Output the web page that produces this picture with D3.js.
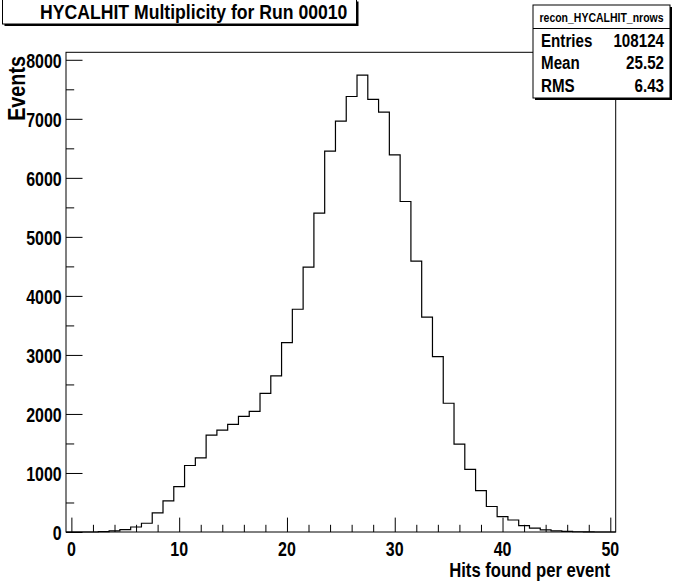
<!DOCTYPE html>
<html>
<head>
<meta charset="utf-8">
<script src="https://cdn.jsdelivr.net/npm/d3@7"></script>
<style>
  html, body { margin: 0; padding: 0; background: #fff; }
  svg text { font-family: "Liberation Sans", Arial, Helvetica, sans-serif; font-weight: bold; fill: #000; }
</style>
</head>
<body>
<svg id="chart" width="683" height="584"></svg>
<script>
// ---- data ----
const binCenters = d3.range(0, 51);   // bins centred on integers 0..50
const binCounts = [
  0, 0, 0, 5, 18, 40, 85, 148, 325, 528,
  770, 1127, 1256, 1640, 1726, 1825, 1960, 2042, 2350, 2644,
  3209, 3774, 4486, 5402, 6452, 6960, 7378, 7740, 7328, 7113,
  6390, 5599, 4588, 3639, 2972, 2181, 1488, 1062, 700, 432,
  260, 203, 107, 65, 37, 18, 9, 4, 2, 0,
  0
];
const xTickLabels = [0, 10, 20, 30, 40, 50];
const yTickLabels = [0, 1000, 2000, 3000, 4000, 5000, 6000, 7000, 8000];
const titleText = "HYCALHIT Multiplicity for Run 00010";
const statsName = "recon_HYCALHIT_nrows";
const statsLabels = ["Entries", "Mean", "RMS"];
const statsValues = ["108124", "25.52", "6.43"];
const xTitle = "Hits found per event";
const yTitle = "Events";

// ---- layout ----
const svg = d3.select("#chart");
const frame = { left: 66, right: 615.7, top: 52.3, bottom: 532 };
const xDomain = [-0.5, 50.5];
const yMax = d3.max(binCounts) * 1.05;
const NARROW = 0.82; // condensed Helvetica look

const x = d3.scaleLinear().domain(xDomain).range([frame.left, frame.right]);
const y = d3.scaleLinear().domain([0, yMax]).range([frame.bottom, frame.top]);

function addText(parent, tx, ty, str, size, anchor, rot, sx) {
  return parent.append("text")
    .attr("transform", `translate(${tx},${ty})` + (rot ? ` rotate(${rot})` : "") + ` scale(${sx || NARROW},1)`)
    .attr("text-anchor", anchor || "start")
    .attr("font-size", size)
    .text(str);
}

svg.append("rect").attr("width", 683).attr("height", 584).attr("fill", "#fff");

// histogram outline
const pts = [[x(xDomain[0]), y(0)]];
binCenters.forEach((c, i) => {
  pts.push([x(c - 0.5), y(binCounts[i])]);
  pts.push([x(c + 0.5), y(binCounts[i])]);
});
pts.push([x(xDomain[1]), y(0)]);
svg.append("path")
  .attr("d", d3.line()(pts))
  .attr("fill", "none")
  .attr("stroke", "#000")
  .attr("stroke-width", 1.2);

// frame
svg.append("rect")
  .attr("x", frame.left).attr("y", frame.top)
  .attr("width", frame.right - frame.left).attr("height", frame.bottom - frame.top)
  .attr("fill", "none").attr("stroke", "#000").attr("stroke-width", 1);

// x axis ticks (inside, upward)
const xMinor = d3.range(0, 51, 2).filter(v => v % 10 !== 0);
const xAxisG = svg.append("g").attr("transform", `translate(0,${frame.bottom})`);
xAxisG.append("g").call(d3.axisTop(x).tickValues(xMinor).tickSize(7.2).tickFormat(""));
xAxisG.append("g").call(d3.axisTop(x).tickValues(xTickLabels).tickSize(14.4).tickFormat(""));
xAxisG.selectAll("path.domain").remove();
xAxisG.selectAll("line").attr("stroke", "#000").attr("stroke-width", 1);
const xLab = svg.append("g");
xTickLabels.forEach(d => addText(xLab, x(d), 555.5, d, 19.5, "middle"));

// y axis ticks (inside, rightward)
const yMinor = d3.range(500, 8001, 1000);
const yAxisG = svg.append("g").attr("transform", `translate(${frame.left},0)`);
yAxisG.append("g").call(d3.axisRight(y).tickValues(yMinor).tickSize(8.2).tickFormat(""));
yAxisG.append("g").call(d3.axisRight(y).tickValues(yTickLabels).tickSize(16.5).tickFormat(""));
yAxisG.selectAll("path.domain").remove();
yAxisG.selectAll("line").attr("stroke", "#000").attr("stroke-width", 1);
const yLab = svg.append("g");
yTickLabels.forEach(d => addText(yLab, 61.7, y(d) + 8.3, d, 19.5, "end"));

// axis titles
addText(svg, 610, 577, xTitle, 20.3, "end");
addText(svg, 25, 56, yTitle, 23, "end", -90, 0.86);

// title box
svg.append("rect").attr("x", 4.5).attr("y", 1.5).attr("width", 354).attr("height", 24.5).attr("fill", "#000");
svg.append("rect").attr("x", 2.5).attr("y", -1).attr("width", 354).attr("height", 25).attr("fill", "#fff").attr("stroke", "#000").attr("stroke-width", 1);
addText(svg, 40, 19.3, titleText, 20.5, "start", 0, 0.86);

// stats box
const sb = { x: 533, y: 5, w: 137, h: 93 };
svg.append("rect").attr("x", sb.x + 2).attr("y", sb.y + 2).attr("width", sb.w).attr("height", sb.h).attr("fill", "#000");
svg.append("rect").attr("x", sb.x).attr("y", sb.y).attr("width", sb.w).attr("height", sb.h)
  .attr("fill", "#fff").attr("stroke", "#000").attr("stroke-width", 1);
svg.append("line").attr("x1", sb.x).attr("x2", sb.x + sb.w).attr("y1", 28.5).attr("y2", 28.5)
  .attr("stroke", "#000").attr("stroke-width", 1);
addText(svg, sb.x + sb.w / 2, 21.5, statsName, 12.8, "middle");
const rowY = [46.7, 68.5, 91.7];
statsLabels.forEach((d, i) => addText(svg, 541, rowY[i], d, 18.5, "start"));
statsValues.forEach((d, i) => addText(svg, 664, rowY[i], d, 18.5, "end"));
</script>
</body>
</html>
